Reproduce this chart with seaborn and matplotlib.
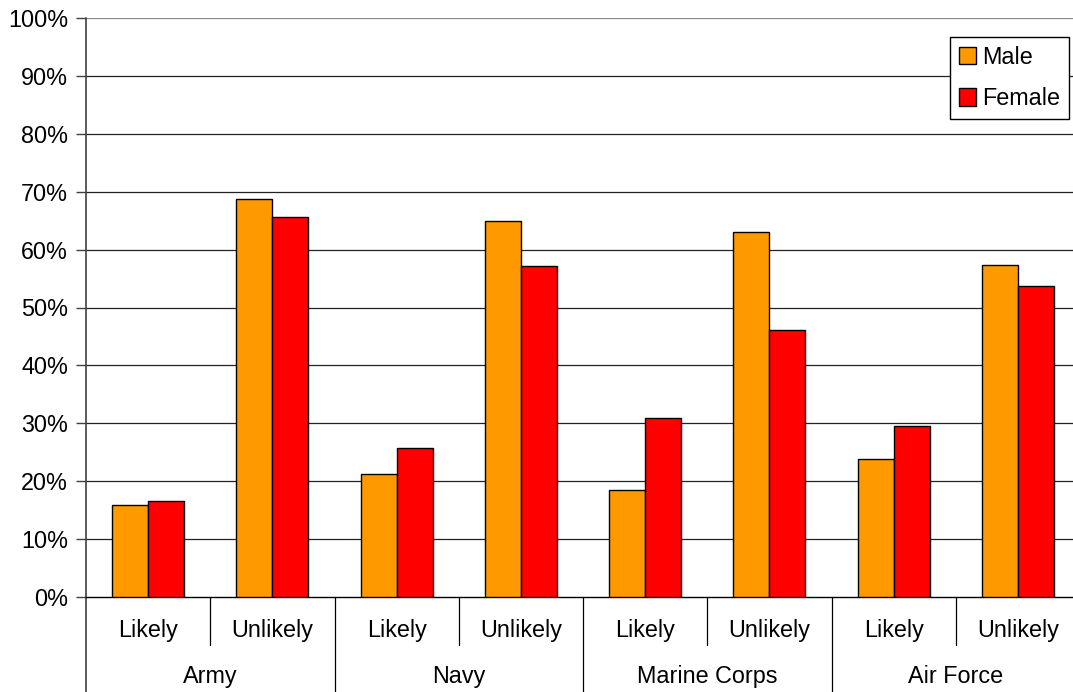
import matplotlib
matplotlib.use("Agg")
import matplotlib.pyplot as plt
import seaborn as sns
import pandas as pd
from matplotlib.lines import Line2D
import matplotlib.transforms as mtransforms

branches = ["Army", "Navy", "Marine Corps", "Air Force"]
responses = ["Likely", "Unlikely"]
male = [15.9, 68.7, 21.2, 64.9, 18.5, 63.0, 23.9, 57.4]
female = [16.5, 65.7, 25.8, 57.1, 31.0, 46.2, 29.5, 53.7]
series = ["Male", "Female"]
colors = ["#FF9900", "#FF0000"]
yticks = [0, 10, 20, 30, 40, 50, 60, 70, 80, 90, 100]

keys, resp_labels = [], []
for b in branches:
    for r in responses:
        keys.append(f"{b}|{r}")
        resp_labels.append(r)

df = pd.DataFrame({
    "key": keys * 2,
    "value": male + female,
    "sex": ["Male"] * len(keys) + ["Female"] * len(keys),
})

sns.set_style("white")
plt.rcParams["font.family"] = ["Liberation Sans", "DejaVu Sans"]
plt.rcParams["text.color"] = "black"
plt.rcParams["ytick.color"] = "black"
plt.rcParams["ytick.labelcolor"] = "black"

FS = 16.8

fig = plt.figure(figsize=(10.73, 6.92), dpi=100)
ax = fig.add_axes([86 / 1073, 95 / 692, 994 / 1073, 579 / 692])

sns.barplot(data=df, x="key", y="value", hue="sex", order=keys, hue_order=series,
            palette=colors, width=0.58, edgecolor="black", linewidth=1.0,
            saturation=1, errorbar=None, ax=ax, zorder=3)

ax.set_ylim(0, 100)
ax.set_xlim(-0.5, len(keys) - 0.5)
ax.set_yticks(yticks)
ax.set_yticklabels([f"{t}%" for t in yticks], fontsize=FS, color="black")
ax.tick_params(axis="y", length=7, width=1, color="#404040", direction="out", left=True, pad=6)
ax.set_xticks([])
ax.set_xlabel("")
ax.set_ylabel("")
for t in yticks[1:]:
    ax.axhline(t, color="#222222" if t < 100 else "#888888", lw=0.9, zorder=1)

for s in ["top", "right"]:
    ax.spines[s].set_visible(False)
ax.spines["bottom"].set_color("black")
ax.spines["bottom"].set_linewidth(1)
ax.spines["left"].set_visible(False)

trans = mtransforms.blended_transform_factory(ax.transData, ax.transAxes)
ax.add_line(Line2D([-0.5, -0.5], [-0.2, 1.0], transform=trans, color="#404040", lw=1.2, clip_on=False))
for i in range(len(branches)):
    ax.add_line(Line2D([2 * i + 0.5] * 2, [0, -0.083], transform=trans, color="black", lw=0.9, clip_on=False))
    if i > 0:
        ax.add_line(Line2D([2 * i - 0.5] * 2, [0, -0.2], transform=trans, color="black", lw=0.9, clip_on=False))
for i, r in enumerate(resp_labels):
    ax.text(i, -0.057, r, transform=trans, ha="center", va="center", fontsize=FS, color="black")
for i, b in enumerate(branches):
    ax.text(2 * i + 0.5, -0.138, b, transform=trans, ha="center", va="center", fontsize=FS, color="black")

handles, labels = ax.get_legend_handles_labels()
leg = ax.legend(handles, labels, loc="upper right", bbox_to_anchor=(0.989, 0.967),
                fontsize=FS, frameon=True, fancybox=False, edgecolor="black",
                handlelength=0.75, handleheight=0.75, handletextpad=0.25,
                labelspacing=0.78, borderpad=0.38, borderaxespad=0, labelcolor="black")
leg.get_frame().set_linewidth(1)
leg.get_frame().set_alpha(1)

fig.savefig("out.png", dpi=100)
